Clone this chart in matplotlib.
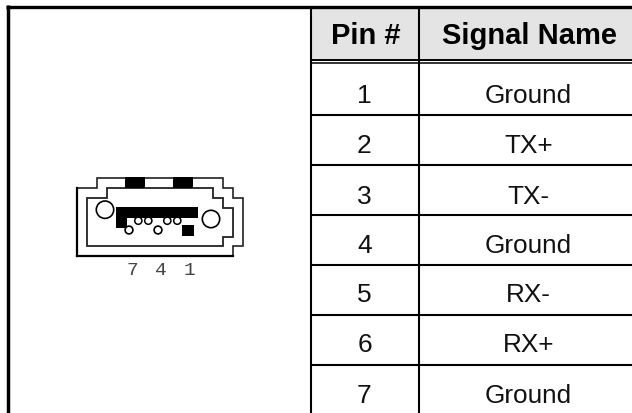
import matplotlib
matplotlib.use('Agg')
import matplotlib.pyplot as plt
from matplotlib.patches import Circle, Polygon, Rectangle

# table contents
headers = ['Pin #', 'Signal Name']
pins = ['1', '2', '3', '4', '5', '6', '7']
signals = ['Ground', 'TX+', 'TX-', 'Ground', 'RX-', 'RX+', 'Ground']
row_lines = [115.7, 165.7, 215.7, 265.7, 315.7, 365.7]
row_baselines = [103.5, 153.5, 204, 253.5, 302.5, 352.5, 403]

# connector drawing, in pixels
outer = [(77, 257), (77, 189), (97, 189), (97, 179), (223, 179), (223, 189),
         (233, 189), (233, 199), (243, 199), (243, 247), (233, 247), (233, 257)]
inner = [(87, 247), (87, 199), (107, 199), (107, 189), (213, 189), (213, 199),
         (223, 199), (223, 209), (233, 209), (233, 238), (223, 238), (223, 247)]
tabs = [(125, 178, 20, 11), (172.7, 178, 20.6, 11)]
bar = [(116, 207.7, 82, 11.6), (116, 219, 11, 9.7), (182, 226, 12, 11)]
big_holes = [(105, 210.7, 8.7), (211, 220, 8.7)]
upper_holes = [(138.3, 221.7, 3.6), (148.3, 221.7, 3.6), (167.3, 221.7, 3.6), (177.3, 221.7, 3.6)]
lower_holes = [(129, 231, 3.9), (158, 231, 3.9)]
pin_labels = [('7', 132), ('4', 161), ('1', 189)]

fig = plt.figure(figsize=(6.32, 4.14), dpi=100)
ax = fig.add_axes([0, 0, 1, 1])
ax.set_xlim(0, 632)
ax.set_ylim(414, 0)
ax.axis('off')

# header shading
ax.add_patch(Rectangle((311, 9), 321, 52, fc='#e4e4e4', ec='none'))

# table lines
ax.plot([7.6, 7.6], [6, 414], color='k', lw=2.5, solid_capstyle='butt')
ax.plot([6, 632], [7.5, 7.5], color='k', lw=2.4, solid_capstyle='butt')
ax.plot([311, 311], [8, 414], color='k', lw=1.5, solid_capstyle='butt')
ax.plot([418.7, 418.7], [8, 414], color='k', lw=1.5, solid_capstyle='butt')
ax.plot([311, 632], [61, 61], color='k', lw=1.4, solid_capstyle='butt')
ax.plot([311, 632], [63.8, 63.8], color='k', lw=1.1, solid_capstyle='butt')
for y in row_lines:
    ax.plot([311, 632], [y, y], color='k', lw=1.5, solid_capstyle='butt')

# table text
font = 'Liberation Sans'
ax.text(366, 44.3, headers[0], family=font, weight='bold', size=21, ha='center', va='baseline')
ax.text(529.5, 44.3, headers[1], family=font, weight='bold', size=21, ha='center', va='baseline')
for y, pin, signal in zip(row_baselines, pins, signals):
    ax.text(364.5, y, pin, family=font, size=19, ha='center', va='baseline', color='#111111')
    ax.text(528.5, y, signal, family=font, size=18.8, ha='center', va='baseline', color='#111111')

# connector
ax.add_patch(Polygon(outer, closed=True, fc='white', ec='#222222', lw=1.2, joinstyle='miter'))
ax.plot([77, 233], [257, 257], color='k', lw=1.6, solid_capstyle='projecting')
ax.plot([77, 77], [189, 257], color='k', lw=1.6, solid_capstyle='projecting')
ax.add_patch(Polygon(inner, closed=True, fc='white', ec='#222222', lw=1.3, joinstyle='miter'))
for x, y, r in upper_holes:
    ax.add_patch(Circle((x, y), r, fc='white', ec='k', lw=1.1))
for x, y, w, h in tabs + bar:
    ax.add_patch(Rectangle((x, y), w, h, fc='k', ec='none'))
for x, y, r in big_holes + lower_holes:
    ax.add_patch(Circle((x, y), r, fc='white', ec='k', lw=1.2))
for label, x in pin_labels:
    ax.text(x, 275.5, label, family='Liberation Mono', size=14, ha='center', va='baseline', color='#444444')

fig.savefig('out.png', dpi=100)
